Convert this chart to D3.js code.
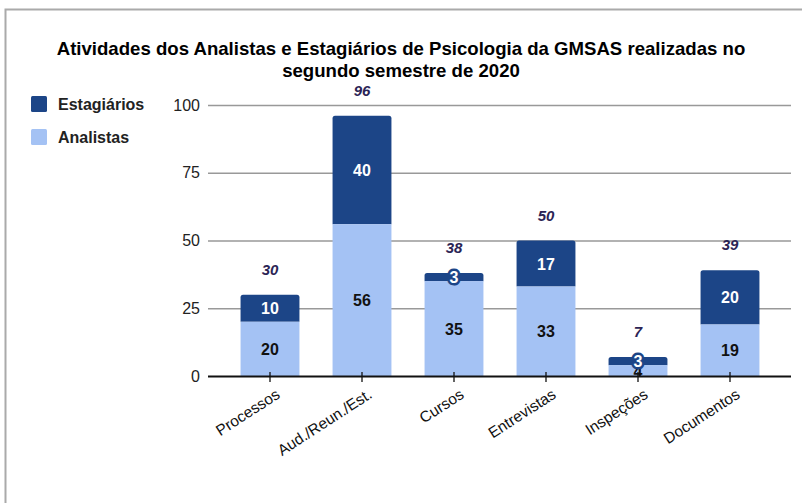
<!DOCTYPE html>
<html>
<head>
<meta charset="utf-8">
<script src="https://cdn.jsdelivr.net/npm/d3@7"></script>
<style>
  body { margin: 0; background: #fff; }
  text { font-family: "Liberation Sans", Arial, sans-serif; }
</style>
</head>
<body>
<script>
// Dados do gráfico
const categorias = ["Processos", "Aud./Reun./Est.", "Cursos", "Entrevistas", "Inspeções", "Documentos"];
const analistas = [20, 56, 35, 33, 4, 19];
const estagiarios = [10, 40, 3, 17, 3, 20];
const ticksY = [0, 25, 50, 75, 100];
const series = ["Estagiários", "Analistas"];

const WIDTH = 802;
const HEIGHT = 503;
const COR_EST = "#1c4587";
const COR_ANA = "#a4c2f4";

const svg = d3.select("body")
  .append("svg")
  .attr("width", WIDTH)
  .attr("height", HEIGHT);

// moldura cinza (topo e esquerda)
svg.append("path")
  .attr("d", "M5.5,503 V9.5 H802")
  .attr("fill", "none")
  .attr("stroke", "#aaa")
  .attr("stroke-width", 2);

// título
const titulo = svg.append("text")
  .attr("text-anchor", "middle")
  .attr("font-size", 18.6)
  .attr("font-weight", "bold")
  .attr("fill", "#000");
titulo.append("tspan").attr("x", 401).attr("y", 55)
  .text("Atividades dos Analistas e Estagiários de Psicologia da GMSAS realizadas no");
titulo.append("tspan").attr("x", 401).attr("y", 77)
  .text("segundo semestre de 2020");

// escalas
const escalaY = d3.scaleLinear().domain([0, 100]).range([376, 105]);
const escalaX = d3.scaleBand()
  .domain(categorias)
  .range([224, 776])
  .paddingInner(0.36)
  .paddingOuter(0.18);

// grade
const grade = svg.append("g");
grade.selectAll("line")
  .data(ticksY.filter((t) => t > 0))
  .join("line")
  .attr("x1", 208).attr("x2", 791)
  .attr("y1", (d) => escalaY(d) + 0.5)
  .attr("y2", (d) => escalaY(d) + 0.5)
  .attr("stroke", "#999")
  .attr("stroke-width", 1.3);

// rótulos do eixo Y
svg.append("g").selectAll("text")
  .data(ticksY)
  .join("text")
  .attr("x", 200)
  .attr("y", (d) => escalaY(d) + 5.5)
  .attr("text-anchor", "end")
  .attr("font-size", 16)
  .attr("fill", "#222")
  .text((d) => d);

const dados = categorias.map((c, i) => ({
  categoria: c,
  analistas: analistas[i],
  estagiarios: estagiarios[i],
  total: analistas[i] + estagiarios[i],
}));

const bw = escalaX.bandwidth();

// barras empilhadas: forma da pilha inteira com cantos superiores arredondados
function caminhoTopoArredondado(x, y0, y1, w, r) {
  return `M${x},${y0} V${y1 + r} Q${x},${y1} ${x + r},${y1} H${x + w - r} Q${x + w},${y1} ${x + w},${y1 + r} V${y0} Z`;
}

const barras = svg.append("g");
barras.selectAll("path.est")
  .data(dados)
  .join("path")
  .attr("class", "est")
  .attr("fill", COR_EST)
  .attr("d", (d) => caminhoTopoArredondado(
    escalaX(d.categoria), escalaY(d.analistas), escalaY(d.total), bw, 2.5));

barras.selectAll("rect.ana")
  .data(dados)
  .join("rect")
  .attr("class", "ana")
  .attr("fill", COR_ANA)
  .attr("x", (d) => escalaX(d.categoria))
  .attr("width", bw)
  .attr("y", (d) => escalaY(d.analistas))
  .attr("height", (d) => escalaY(0) - escalaY(d.analistas));

// eixo x (linha zero) e marcas
svg.append("line")
  .attr("x1", 208).attr("x2", 791)
  .attr("y1", 376.5).attr("y2", 376.5)
  .attr("stroke", "#111")
  .attr("stroke-width", 2);

svg.append("g").selectAll("line")
  .data(categorias)
  .join("line")
  .attr("x1", (d) => escalaX(d) + bw / 2)
  .attr("x2", (d) => escalaX(d) + bw / 2)
  .attr("y1", 372).attr("y2", 382)
  .attr("stroke", "#111")
  .attr("stroke-width", 1.3);

// rótulos das categorias (rotacionados)
svg.append("g").selectAll("text")
  .data(categorias)
  .join("text")
  .attr("text-anchor", "end")
  .attr("font-size", 15.5)
  .attr("fill", "#111")
  .attr("transform", (d) => `translate(${escalaX(d) + bw / 2 + 11},${397}) rotate(-33)`)
  .text((d) => d);

// rótulos dos analistas
svg.append("g").selectAll("text")
  .data(dados)
  .join("text")
  .attr("x", (d) => escalaX(d.categoria) + bw / 2)
  .attr("y", (d) => (escalaY(0) + escalaY(d.analistas)) / 2 + 6)
  .attr("text-anchor", "middle")
  .attr("font-size", 16)
  .attr("font-weight", "bold")
  .attr("fill", "#111")
  .text((d) => d.analistas);

// rótulos dos estagiários (com contorno quando o segmento é pequeno)
svg.append("g").selectAll("text")
  .data(dados)
  .join("text")
  .attr("x", (d) => escalaX(d.categoria) + bw / 2)
  .attr("y", (d) => (escalaY(d.analistas) + escalaY(d.total)) / 2 + 6)
  .attr("text-anchor", "middle")
  .attr("font-size", 16)
  .attr("font-weight", "bold")
  .attr("fill", "#fff")
  .attr("stroke", (d) => d.estagiarios < 5 ? COR_EST : "none")
  .attr("stroke-width", 5)
  .attr("stroke-linejoin", "round")
  .attr("paint-order", "stroke")
  .text((d) => d.estagiarios);

// totais
svg.append("g").selectAll("text")
  .data(dados)
  .join("text")
  .attr("x", (d) => escalaX(d.categoria) + bw / 2)
  .attr("y", (d) => escalaY(d.total) - 20)
  .attr("text-anchor", "middle")
  .attr("font-size", 15)
  .attr("font-weight", "bold")
  .attr("font-style", "italic")
  .attr("fill", "#2b2455")
  .text((d) => d.total);

// legenda
const legenda = svg.append("g")
  .selectAll("g")
  .data(series)
  .join("g")
  .attr("transform", (d, i) => `translate(31,${96 + i * 33})`);
legenda.append("rect")
  .attr("width", 16).attr("height", 16).attr("rx", 1.5)
  .attr("fill", (d, i) => i === 0 ? COR_EST : COR_ANA);
legenda.append("text")
  .attr("x", 27).attr("y", 14)
  .attr("font-size", 16)
  .attr("font-weight", "bold")
  .attr("fill", "#222")
  .text((d) => d);
</script>
</body>
</html>
